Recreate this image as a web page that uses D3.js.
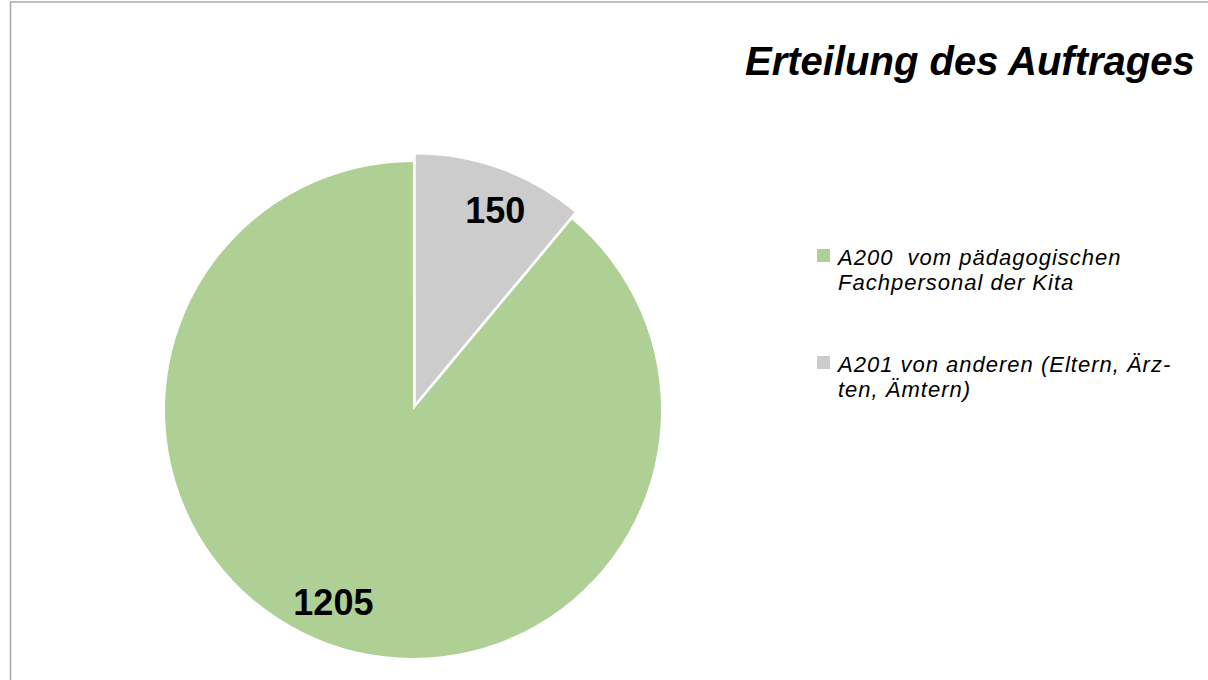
<!DOCTYPE html>
<html>
<head>
<meta charset="utf-8">
<script src="https://cdn.jsdelivr.net/npm/d3@7"></script>
<style>
  body { margin: 0; background: #fff; }
  svg { display: block; font-family: "Liberation Sans", Arial, sans-serif; }
</style>
</head>
<body>
<div id="chart"></div>
<script>
// chart data
var title = "Erteilung des Auftrages";
var categories = ["A200", "A201"];
var values = [1205, 150];
var legendLines = [
  ["A200\u00a0 vom pädagogischen", "Fachpersonal der Kita"],
  ["A201 von anderen (Eltern, Ärz-", "ten, Ämtern)"]
];
var colors = ["#afd095", "#cccccc"];

var width = 1208, height = 680;
var cx = 413, cy = 410, radius = 248;
var explode = [0, 8];
var labelRadius = 208, labelShift = 0.045;

var svg = d3.select("#chart").append("svg")
    .attr("width", width)
    .attr("height", height);

// frame of the chart area
svg.append("rect")
    .attr("x", 10.5).attr("y", 2)
    .attr("width", width + 20).attr("height", height + 20)
    .attr("fill", "none")
    .attr("stroke", "#a8a8a8")
    .attr("stroke-width", 1.5);

// counter-clockwise from 12 o'clock, like the office chart
var pie = d3.pie().sort(null).startAngle(0).endAngle(-2 * Math.PI);
var arcs = pie(values);

var arc = d3.arc().innerRadius(0).outerRadius(radius);

function midAngle(d) {
  return (d.startAngle + d.endAngle) / 2;
}

function offset(d, i) {
  var a = midAngle(d);
  return [Math.sin(a) * explode[i], -Math.cos(a) * explode[i]];
}

var slice = svg.append("g")
    .attr("transform", "translate(" + cx + "," + cy + ")")
    .selectAll(".slice")
    .data(arcs)
    .enter()
    .append("g")
    .attr("class", "slice")
    .attr("transform", function (d, i) {
      var o = offset(d, i);
      return "translate(" + o[0] + "," + o[1] + ")";
    });

slice.append("path")
    .attr("d", arc)
    .attr("fill", function (d, i) { return colors[i]; });

slice.append("text")
    .attr("transform", function (d) {
      var a = midAngle(d) + labelShift;
      return "translate(" + (Math.sin(a) * labelRadius) + "," + (-Math.cos(a) * labelRadius) + ")";
    })
    .attr("text-anchor", "middle")
    .attr("dy", "0.36em")
    .style("font-size", "36px")
    .style("font-weight", "bold")
    .text(function (d) { return d.data; });

// title
svg.append("text")
    .attr("x", 745).attr("y", 75)
    .style("font-size", "40px")
    .style("font-weight", "bold")
    .style("font-style", "italic")
    .text(title);

// legend
var legendY = d3.scalePoint().domain(categories).range([249, 356]);

var legend = svg.selectAll(".legend")
    .data(categories)
    .enter()
    .append("g")
    .attr("class", "legend")
    .attr("transform", function (d) { return "translate(817," + legendY(d) + ")"; });

legend.append("rect")
    .attr("width", 13).attr("height", 13)
    .attr("fill", function (d, i) { return colors[i]; });

legend.append("text")
    .attr("x", 21)
    .attr("y", 16)
    .style("font-size", "22px")
    .style("font-style", "italic")
    .style("letter-spacing", "1px")
    .selectAll("tspan")
    .data(function (d, i) { return legendLines[i]; })
    .enter()
    .append("tspan")
    .attr("x", 21)
    .attr("dy", function (d, j) { return j === 0 ? 0 : 25; })
    .text(function (d) { return d; });
</script>
</body>
</html>
